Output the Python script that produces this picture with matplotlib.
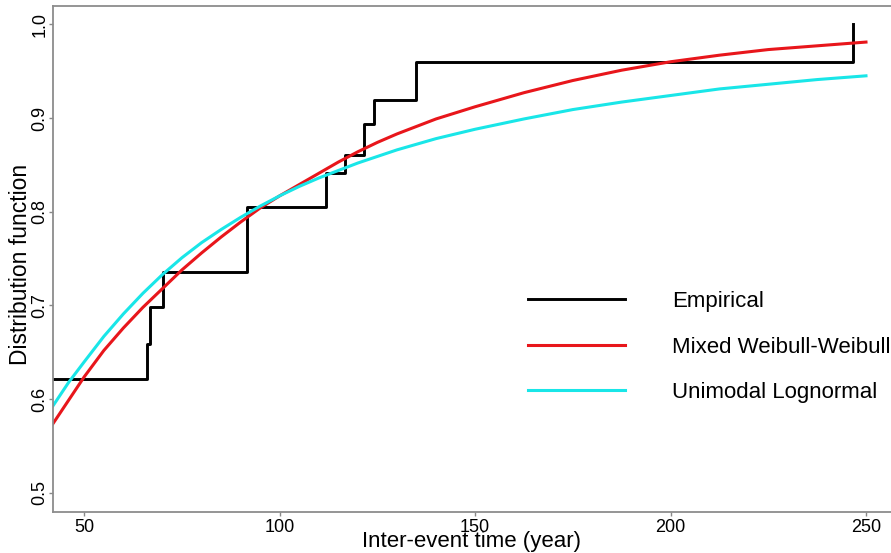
import numpy as np
import matplotlib
matplotlib.use("Agg")
import matplotlib.pyplot as plt

plt.rcParams["font.family"] = ["Liberation Sans", "DejaVu Sans"]

# Empirical distribution (step function, jumps at these times)
emp_time = [40.0, 66.0, 66.8, 70.2, 91.6, 111.8, 116.7, 121.6, 124.1, 134.8, 246.8]
emp_cdf = [0.622, 0.659, 0.698, 0.736, 0.805, 0.841, 0.861, 0.894, 0.919, 0.960, 1.0]

# Fitted curves
fit_time = [42, 46, 50, 55, 60, 65, 70, 75, 80, 85, 90, 95, 100, 105, 110, 115,
            120, 125, 130, 140, 150, 162.5, 175, 187.5, 200, 212.5, 225, 237.5, 250]
weibull_mix = [0.574, 0.599, 0.624, 0.652, 0.676, 0.698, 0.718, 0.738, 0.756, 0.773,
               0.789, 0.804, 0.817, 0.829, 0.841, 0.853, 0.864, 0.874, 0.883, 0.899,
               0.912, 0.927, 0.940, 0.951, 0.960, 0.967, 0.973, 0.977, 0.981]
lognormal = [0.593, 0.618, 0.640, 0.667, 0.691, 0.713, 0.733, 0.751, 0.767, 0.781,
             0.794, 0.806, 0.817, 0.827, 0.836, 0.844, 0.852, 0.859, 0.866, 0.878,
             0.888, 0.899, 0.909, 0.917, 0.924, 0.931, 0.936, 0.941, 0.945]

labels = ["Empirical", "Mixed Weibull-Weibull", "Unimodal Lognormal"]
x_ticks = [50, 100, 150, 200, 250]
y_ticks = [0.5, 0.6, 0.7, 0.8, 0.9, 1.0]

fig = plt.figure(figsize=(8.91, 5.53), dpi=100)
ax = fig.add_axes([0.0598, 0.0736, 0.9402, 0.9161])

ax.step(emp_time, emp_cdf, where="post", color="black", lw=2.1, label=labels[0])
ax.plot(fit_time, weibull_mix, color="#e8161b", lw=2.2, label=labels[1])
ax.plot(fit_time, lognormal, color="#19e6e8", lw=2.2, label=labels[2])

ax.set_xlim(42.07, 256.4)
ax.set_ylim(0.4794, 1.0198)
ax.set_xticks(x_ticks)
ax.set_yticks(y_ticks)
ax.set_yticklabels([f"{v:.1f}" for v in y_ticks], rotation=90, va="center")

ax.tick_params(axis="both", labelsize=13, length=3, width=1, color="#888888", pad=1.5)
ax.tick_params(axis="y", pad=0.5)

for side in ["left", "bottom", "top"]:
    ax.spines[side].set_color("#8c8c8c")
    ax.spines[side].set_linewidth(1.3)
ax.spines["right"].set_visible(False)

ax.set_xlabel("Inter-event time (year)", fontsize=16)
ax.set_ylabel("Distribution function", fontsize=16.5)
ax.xaxis.set_label_coords(0.499, -0.037)
ax.yaxis.set_label_coords(-0.026, 0.49)

ax.legend(loc="center left", bbox_to_anchor=(528 / 891, 1 - 347 / 553),
          bbox_transform=fig.transFigure, frameon=False, fontsize=16,
          handlelength=4.37, handletextpad=2.1, labelspacing=1.1,
          borderpad=0, borderaxespad=0)

fig.savefig("out.png", dpi=100)
